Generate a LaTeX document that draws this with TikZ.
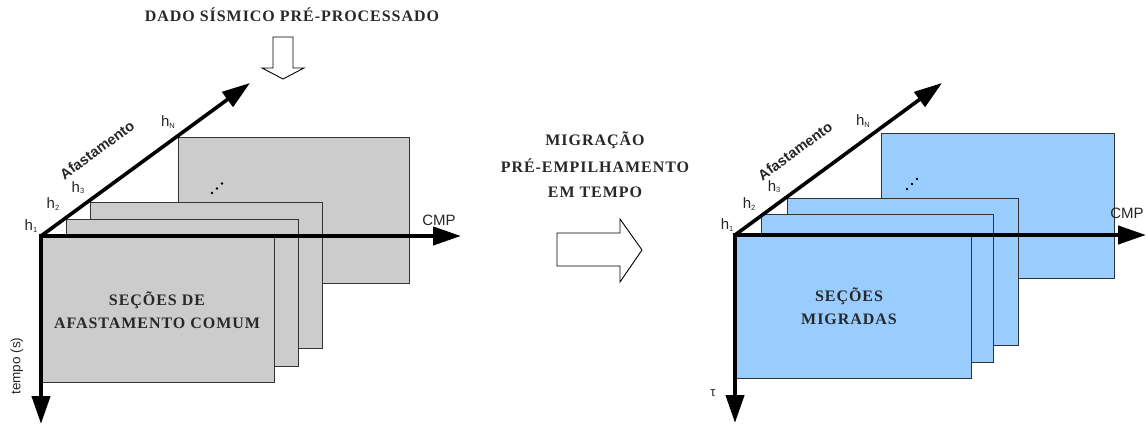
\documentclass[tikz,border=0pt]{standalone}
\usepackage{fontspec}
\setmainfont{Liberation Serif}
\setsansfont{Liberation Sans}
\newfontfamily\titlefont[LetterSpace=6]{Liberation Serif}
\usetikzlibrary{arrows.meta}
\definecolor{secgray}{RGB}{204,204,204}
\definecolor{secblue}{RGB}{153,204,255}
\definecolor{txt}{RGB}{40,40,40}
\newcommand{\hlab}[1]{h{\fontsize{7.5}{7.5}\selectfont\raisebox{-0.3ex}{#1}}}
\tikzset{
  axis/.style={line width=4.2pt, -{Triangle[length=28pt,width=18pt]}},
  secg/.style={draw=black!80, line width=0.8pt, fill=secgray},
  secb/.style={draw=black!80, line width=0.8pt, fill=secblue},
  hollow/.style={draw=black, line width=0.9pt, fill=white, line join=miter},
  title/.style={font=\titlefont\fontsize{16}{16}\selectfont\bfseries, text=txt, align=center},
  axlab/.style={font=\sffamily\fontsize{15}{15}\selectfont, text=black!85},
  aflab/.style={font=\sffamily\bfseries\fontsize{14.5}{14.5}\selectfont, text=black!85, rotate=36},
  dot/.style={fill=black, circle, inner sep=0pt, minimum size=2.8pt},
}
\begin{document}
\begin{tikzpicture}[x=1pt,y=-1pt]
\useasboundingbox (0,0) rectangle (1146,425);
% ---------- left diagram ----------
\path[secg] (178,137) rectangle (409,283);
\path[secg] (90,202) rectangle (322,348);
\path[secg] (66,219) rectangle (298,366);
\path[secg] (41,236) rectangle (274,382);
\node[dot] (dl1) at (212,193) {};
\node[dot] (dl2) at (217,188.5) {};
\node[dot] (dl3) at (222,183.5) {};
\coordinate (OL) at (41,236);
\coordinate (XL) at (461,236);
\coordinate (YL) at (41,424);
\coordinate (DL) at (250,83);
\draw[axis] (OL) -- (XL);
\draw[axis] ([yshift=2pt]OL) -- (YL);
\draw[axis, line width=3.6pt] (OL) -- (DL);
\node[axlab] (h1L) at (31,226) {\hlab{1}};
\node[axlab] (h2L) at (53,204) {\hlab{2}};
\node[axlab] (h3L) at (78,188) {\hlab{3}};
\node[axlab] (hNL) at (168,122) {\hlab{N}};
\node[aflab] (afL) at (97,150) {Afastamento};
\node[axlab] (cmpL) at (439,220) {CMP};
\node[axlab, font=\sffamily\fontsize{13.5}{13.5}\selectfont, rotate=90] (tL) at (17,366) {tempo (s)};
\node[title] (secL) at (157,310) {SEÇÕES DE\\[7pt]AFASTAMENTO COMUM};
% top title and down arrow
\node[title] (dado) at (292,15) {DADO SÍSMICO PRÉ-PROCESSADO};
\path[hollow] (273,37) -- (293,37) -- (293,68) -- (304,68) -- (283,79) -- (262,68) -- (273,68) -- cycle;
% ---------- middle ----------
\node[title] (mig) at (595,165) {MIGRAÇÃO\\[9pt]PRÉ-EMPILHAMENTO\\[9pt]EM TEMPO};
\path[hollow] (557,233) -- (620,233) -- (620,219) -- (642,250) -- (620,282) -- (620,266) -- (557,266) -- cycle;
% ---------- right diagram ----------
\path[secb] (881,133) rectangle (1114,278);
\path[secb] (787,198) rectangle (1018,345);
\path[secb] (761,214) rectangle (993,362);
\path[secb] (735,235) rectangle (971,378);
\node[dot] (dr1) at (907,189) {};
\node[dot] (dr2) at (912,184) {};
\node[dot] (dr3) at (917,179) {};
\coordinate (OR) at (735,235);
\coordinate (XR) at (1146,235);
\coordinate (YR) at (735,423);
\coordinate (DR) at (942,83);
\draw[axis] (OR) -- (XR);
\draw[axis] ([yshift=2pt]OR) -- (YR);
\draw[axis, line width=3.6pt] (OR) -- (DR);
\node[axlab] (h1R) at (727,225) {\hlab{1}};
\node[axlab] (h2R) at (749,204) {\hlab{2}};
\node[axlab] (h3R) at (774,187) {\hlab{3}};
\node[axlab] (hNR) at (863,121) {\hlab{N}};
\node[aflab] (afR) at (795,151) {Afastamento};
\node[axlab] (cmpR) at (1127,213) {CMP};
\node[axlab, font=\sffamily\fontsize{13}{13}\selectfont] (tauR) at (713,393) {τ};
\node[title] (secR) at (849,306) {SEÇÕES\\[7pt]MIGRADAS};
\end{tikzpicture}
\end{document}
